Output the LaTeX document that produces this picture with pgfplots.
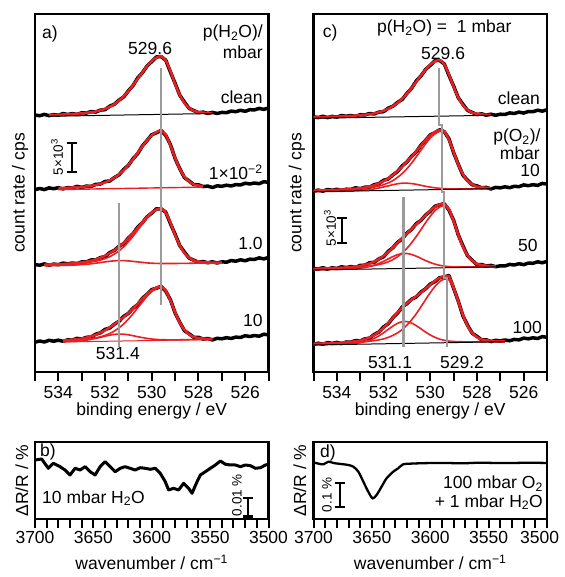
\documentclass[border=0pt]{standalone}
\usepackage{fontspec}
\setmainfont{Liberation Sans}
\usepackage{pgfplots}
\pgfplotsset{compat=1.18}
\usepackage{pgfplotstable}
\definecolor{fitred}{RGB}{235,30,35}
\definecolor{guide}{RGB}{155,155,155}
\newcommand\lbl{\fontsize{17.5}{20}\selectfont}
\newcommand\sml{\fontsize{13.5}{15}\selectfont}

% panel a: d = data, e = fit envelope, m = main component, c = second component
\pgfplotstableread{
E d1 e1 d2 e2 d3 e3 m3 c3 d4 e4 m4 c4
535.0 257.0 nan 182.3 nan 107.5 nan nan nan 29.8 nan nan nan
534.8 256.2 nan 183.5 nan 106.7 nan nan nan 31.0 nan nan nan
534.6 257.6 nan 182.4 nan 108.1 107.3 107.2 106.2 30.0 nan nan nan
534.4 256.3 257.0 184.1 nan 106.8 107.5 107.4 106.3 31.7 nan nan nan
534.2 257.4 257.1 183.3 nan 107.9 107.6 107.5 106.4 30.8 nan nan nan
534.0 256.8 257.3 184.3 183.8 107.3 107.8 107.7 106.5 31.8 nan nan nan
533.8 258.4 257.5 183.1 184.0 108.9 108.0 107.9 106.6 30.7 31.6 31.4 30.2
533.6 257.5 257.7 184.4 184.2 108.1 108.3 108.2 106.7 32.1 31.9 31.6 30.4
533.4 258.4 258.0 184.1 184.5 109.0 108.6 108.4 106.9 31.9 32.3 31.8 30.6
533.2 257.5 258.3 185.6 184.8 108.3 109.1 108.7 107.1 33.6 32.8 32.1 30.9
533.0 259.2 258.7 184.6 185.1 110.1 109.6 109.1 107.4 32.9 33.4 32.5 31.3
532.8 258.9 259.2 185.9 185.6 110.1 110.4 109.5 107.7 34.7 34.4 32.9 31.8
532.6 260.4 259.7 185.5 186.2 112.0 111.3 110.0 108.2 34.9 35.6 33.4 32.6
532.4 259.9 260.5 187.6 187.0 112.0 112.6 110.8 108.8 37.8 37.2 34.2 33.6
532.2 261.9 261.7 187.9 188.1 114.4 114.2 111.9 109.4 39.1 39.3 35.2 34.6
532.0 262.3 263.2 190.5 189.6 115.4 116.3 113.4 110.1 42.6 41.7 36.6 35.8
531.8 265.8 265.2 191.0 191.6 119.4 118.8 115.3 110.7 44.0 44.6 38.5 36.8
531.6 267.8 267.9 194.4 194.3 121.6 121.7 117.9 111.2 47.8 47.7 41.0 37.6
531.4 271.9 271.4 197.2 197.7 125.7 125.2 121.2 111.4 50.7 51.2 44.2 37.9
531.2 275.1 275.8 202.6 201.9 128.4 129.1 125.3 111.4 55.6 54.9 48.1 37.8
531.0 281.2 280.9 206.7 207.0 134.0 133.7 130.2 111.1 58.6 58.9 52.9 37.2
530.8 286.5 286.9 213.3 212.9 138.3 138.7 135.8 110.6 63.8 63.4 58.3 36.3
530.6 294.1 293.3 218.4 219.2 145.0 144.2 141.9 110.1 67.4 68.2 64.2 35.3
530.4 299.3 299.8 226.1 225.6 149.3 149.8 148.1 109.6 73.7 73.2 70.1 34.4
530.2 306.0 305.9 231.5 231.6 155.2 155.1 153.9 109.1 77.8 77.9 75.7 33.6
530.0 310.4 311.0 237.2 236.6 158.9 159.5 158.7 108.8 82.4 81.8 80.4 33.0
529.8 315.1 314.4 239.2 239.9 163.2 162.5 162.0 108.6 83.8 84.5 83.5 32.6
529.6 315.4 315.7 241.5 241.2 163.2 163.5 163.2 108.5 85.6 85.3 84.7 32.3
529.4 311.8 311.4 236.6 237.0 159.8 159.4 159.1 108.5 80.8 81.2 80.8 32.2
529.2 300.0 300.8 227.4 226.6 148.4 149.2 149.1 108.5 72.2 71.4 71.1 32.1
529.0 288.7 288.1 213.5 214.1 137.8 137.2 137.1 108.5 59.1 59.7 59.5 32.1
528.8 276.8 277.0 203.3 203.1 126.4 126.6 126.5 108.6 49.7 49.5 49.3 32.2
528.6 269.9 269.0 194.4 195.3 119.9 119.0 118.9 108.6 41.3 42.2 42.0 32.2
528.4 263.6 264.1 191.0 190.5 113.9 114.4 114.3 108.7 38.2 37.7 37.6 32.3
528.2 261.4 261.1 187.3 187.6 111.8 111.5 111.5 108.8 34.7 35.0 34.9 32.3
528.0 259.3 260.0 187.2 186.5 109.8 110.5 110.5 108.9 34.7 34.0 33.9 32.4
527.8 259.9 259.4 185.4 185.9 110.4 109.9 109.9 108.9 32.9 33.4 33.3 32.5
527.6 258.6 259.0 185.9 nan 109.2 109.6 109.5 109.0 33.5 33.1 33.0 32.5
527.4 259.6 258.8 184.5 nan 110.2 109.4 109.3 109.1 32.1 32.9 32.8 32.6
527.2 258.5 nan 186.2 nan 109.0 109.3 109.2 109.2 33.7 nan nan nan
527.0 259.6 nan 185.7 nan 110.2 109.3 109.3 109.2 33.2 nan nan nan
526.8 259.3 nan 186.8 nan 109.8 nan nan nan 34.3 nan nan nan
526.6 260.9 nan 186.0 nan 111.4 nan nan nan 33.5 nan nan nan
526.4 260.3 nan 187.4 nan 110.8 nan nan nan 34.9 nan nan nan
526.2 261.7 nan 187.0 nan 112.2 nan nan nan 34.5 nan nan nan
526.0 260.7 nan 188.8 nan 111.2 nan nan nan 36.3 nan nan nan
525.8 262.3 nan 188.0 nan 112.8 nan nan nan 35.5 nan nan nan
525.6 262.1 nan 189.0 nan 112.6 nan nan nan 36.5 nan nan nan
525.4 263.6 nan 188.3 nan 114.1 nan nan nan 35.8 nan nan nan
525.2 262.6 nan 190.3 nan 113.1 nan nan nan 37.8 nan nan nan
525.0 264.1 nan 189.6 nan 114.6 nan nan nan 37.1 nan nan nan
}\tabA

% panel c
\pgfplotstableread{
E d1 e1 d2 e2 m2 c2 d3 e3 m3 c3 d4 e4 m4 c4
535.0 255.2 254.6 180.7 181.3 181.2 180.4 103.7 103.1 102.9 102.2 27.6 28.2 28.0 27.2
534.8 254.4 254.8 181.9 181.5 181.4 180.5 102.9 103.3 103.1 102.3 28.8 28.4 28.1 27.3
534.6 255.7 254.9 180.8 181.6 181.5 180.6 104.3 103.5 103.3 102.4 27.7 28.5 28.3 27.5
534.4 254.4 255.1 182.5 181.8 181.7 180.6 102.9 103.6 103.4 102.5 29.4 28.7 28.4 27.6
534.2 255.6 255.3 181.7 182.0 181.9 180.7 104.2 103.9 103.6 102.6 28.6 28.9 28.6 27.7
534.0 254.9 255.4 182.7 182.2 182.1 180.8 103.5 104.0 103.8 102.7 29.6 29.1 28.7 27.8
533.8 256.5 255.6 181.5 182.4 182.2 180.9 105.2 104.3 104.0 102.8 28.5 29.4 29.0 27.9
533.6 255.7 255.9 182.8 182.6 182.4 181.1 104.4 104.6 104.2 103.0 30.0 29.8 29.2 28.2
533.4 256.5 256.1 182.5 182.9 182.7 181.2 105.4 105.0 104.4 103.2 29.8 30.2 29.4 28.4
533.2 255.6 256.4 184.2 183.4 183.0 181.4 104.6 105.4 104.7 103.5 31.5 30.7 29.6 28.8
533.0 257.3 256.8 183.3 183.8 183.3 181.6 106.6 106.1 105.0 103.9 31.1 31.6 30.0 29.4
532.8 257.0 257.3 184.8 184.5 183.8 182.0 106.8 107.1 105.4 104.6 33.1 32.8 30.3 30.3
532.6 258.5 257.8 184.8 185.5 184.3 182.5 109.2 108.5 105.9 105.5 33.8 34.5 30.8 31.7
532.4 258.0 258.6 187.3 186.7 185.0 183.1 109.7 110.3 106.5 106.8 37.5 36.9 31.4 33.6
532.2 259.9 259.7 188.3 188.5 185.9 184.0 113.1 112.9 107.4 108.6 39.9 40.1 32.1 36.1
532.0 260.3 261.2 191.7 190.8 187.3 185.0 115.2 116.1 108.6 110.7 45.0 44.1 33.1 39.2
531.8 263.8 263.2 193.0 193.6 189.1 186.1 120.6 120.0 110.2 113.1 48.3 48.9 34.6 42.6
531.6 265.7 265.8 197.1 197.0 191.4 187.3 124.3 124.4 112.4 115.4 54.2 54.1 36.6 45.9
531.4 269.6 269.1 200.5 201.0 194.6 188.2 129.6 129.1 115.3 117.3 58.9 59.4 39.1 48.7
531.2 272.6 273.3 206.1 205.4 198.5 188.8 133.2 133.9 119.0 118.4 65.0 64.3 42.5 50.3
531.0 278.6 278.3 210.0 210.3 203.3 188.8 138.8 138.5 123.6 118.5 68.3 68.6 46.8 50.4
530.8 283.7 284.1 215.7 215.3 208.9 188.4 142.6 143.0 129.2 117.5 72.8 72.4 52.1 48.9
530.6 291.0 290.2 220.0 220.8 215.2 187.7 148.3 147.5 135.5 115.8 75.0 75.8 58.2 46.3
530.4 296.0 296.5 226.8 226.3 221.7 186.7 151.6 152.1 142.3 113.6 79.9 79.4 65.1 43.2
530.2 302.5 302.4 231.6 231.7 228.2 185.7 156.9 156.8 149.3 111.4 83.2 83.3 72.3 39.9
530.0 306.7 307.3 237.1 236.5 233.9 184.9 160.7 161.3 155.8 109.5 87.9 87.3 79.3 37.0
529.8 311.4 310.7 239.3 240.0 238.3 184.2 165.7 165.0 161.2 107.9 90.4 91.1 85.5 34.7
529.6 311.6 311.9 242.2 241.9 240.7 183.7 167.2 167.5 164.9 106.7 94.3 94.0 90.3 32.9
529.4 308.1 307.7 240.3 240.7 239.9 183.3 168.3 167.9 166.2 105.9 95.0 95.4 92.9 31.7
529.2 296.7 297.5 233.2 232.4 231.9 183.1 162.0 162.8 161.7 105.4 96.5 95.7 92.1 30.9
529.0 285.9 285.3 219.3 219.9 219.6 183.0 151.7 151.1 150.3 105.1 83.8 84.4 83.3 30.5
528.8 274.3 274.5 207.7 207.5 207.3 183.0 137.1 137.3 136.8 105.0 70.9 70.7 69.9 30.3
528.6 267.7 266.8 196.8 197.7 197.5 183.1 126.1 125.2 124.8 105.0 56.1 57.0 56.4 30.2
528.4 261.6 262.1 191.7 191.2 191.0 183.1 116.1 116.6 116.3 105.0 46.6 46.1 45.6 30.1
528.2 259.5 259.2 187.2 187.5 187.4 183.2 111.6 111.3 111.0 105.0 38.7 39.0 38.6 30.1
528.0 257.5 258.2 186.1 185.4 185.3 183.2 107.4 108.1 107.9 105.0 35.6 34.9 34.6 30.2
527.8 258.1 257.6 184.2 184.7 184.6 183.3 107.5 107.0 106.7 105.1 32.1 32.6 32.3 30.2
527.6 256.8 257.2 184.6 184.2 184.1 183.4 105.9 106.3 106.1 105.2 32.2 31.8 31.5 30.3
527.4 257.8 257.0 183.0 183.8 183.8 183.4 106.6 105.8 105.7 105.2 30.4 31.2 30.9 30.3
527.2 256.7 nan 184.6 nan nan nan 105.3 105.6 105.4 105.3 31.7 30.8 30.6 30.4
527.0 257.8 nan 184.1 nan nan nan 106.2 nan nan nan 31.1 30.6 30.4 30.4
526.8 257.5 nan 185.2 nan nan nan 106.0 nan nan nan 32.0 30.5 30.3 30.5
526.6 259.1 nan 184.3 nan nan nan 107.6 nan nan nan 31.2 nan nan nan
526.4 258.5 nan 185.7 nan nan nan 107.0 nan nan nan 32.6 nan nan nan
526.2 259.9 nan 185.3 nan nan nan 108.3 nan nan nan 32.1 nan nan nan
526.0 258.9 nan 187.1 nan nan nan 107.3 nan nan nan 33.9 nan nan nan
525.8 260.5 nan 186.3 nan nan nan 108.9 nan nan nan 33.2 nan nan nan
525.6 260.3 nan 187.3 nan nan nan 108.7 nan nan nan 34.2 nan nan nan
525.4 261.8 nan 186.6 nan nan nan 110.2 nan nan nan 33.5 nan nan nan
525.2 260.8 nan 188.6 nan nan nan 109.2 nan nan nan 35.4 nan nan nan
525.0 262.3 nan 187.9 nan nan nan 110.7 nan nan nan 34.7 nan nan nan
}\tabC

\tikzset{
  txt/.style={font=\lbl, inner sep=0pt},
  stxt/.style={font=\sml, inner sep=0pt, rotate=90},
}
\pgfplotsset{
  panel/.style={
    scale only axis, width=233.5pt,
    x dir=reverse,
    axis line style={line width=2.6pt},
    ytick=\empty,
    tick align=outside, xtick pos=left,
    major tick length=9pt, minor tick length=9pt,
    tick style={black, line width=2pt},
    tick label style={font=\lbl},
    label style={font=\lbl},
    /pgf/number format/assume math mode=true,
    /pgf/number format/1000 sep={},
    unbounded coords=discard,
  },
  xps/.style={panel, height=358pt,
    xmin=525, xmax=535, ymin=0, ymax=358,
    xtick={526,528,...,534}, minor xtick={525,527,...,535},
    xticklabel style={yshift=-2pt},
    xlabel={binding energy / eV}, ylabel={count rate / cps},
    xlabel style={at={(axis description cs:0.5,-0.109)}, anchor=center},
  },
  ir/.style={panel, height=77pt,
    xmin=3500, xmax=3700, ymin=0, ymax=77,
    xtick={3500,3550,...,3700}, minor xtick={3500,3510,...,3700},
    xlabel={wavenumber / cm\textsuperscript{−1}}, ylabel={ΔR/R / \%},
    xlabel style={at={(axis description cs:0.5,-0.56)}, anchor=center},
  },
  dat/.style={black, line width=3.5pt, line join=round, no marks},
  fit/.style={fitred, line width=2.5pt, smooth, no marks},
  comp/.style={fitred, line width=1.6pt, smooth, no marks},
  base/.style={line width=1pt, no marks},
  gline/.style={guide, line width=2.2pt, no marks},
  bar/.style={black, line width=2.5pt, no marks},
}

\begin{document}
\begin{tikzpicture}
\useasboundingbox (0,0) rectangle (564pt,577pt);

% ---------- a) ----------
\begin{axis}[xps, at={(35pt,205pt)}, anchor=south west,
  ylabel style={at={(axis description cs:-0.064,0.5)}, anchor=center}]
\addplot[dat] table[x=E,y=d1]{\tabA};
\addplot[fit] table[x=E,y=e1]{\tabA};
\addplot[base, black] coordinates {(534.4,255.7) (527.4,258.5)};
\addplot[dat] table[x=E,y=d2]{\tabA};
\addplot[fit] table[x=E,y=e2]{\tabA};
\addplot[base, fitred, line width=1.4pt] coordinates {(534.0,182.4) (527.8,184.9)};
\addplot[dat] table[x=E,y=d3]{\tabA};
\addplot[fit] table[x=E,y=e3]{\tabA};
\addplot[comp] table[x=E,y=m3]{\tabA};
\addplot[comp] table[x=E,y=c3]{\tabA};
\addplot[dat] table[x=E,y=d4]{\tabA};
\addplot[fit] table[x=E,y=e4]{\tabA};
\addplot[comp] table[x=E,y=m4]{\tabA};
\addplot[comp] table[x=E,y=c4]{\tabA};
\addplot[base, fitred] coordinates {(533.8,30.0) (527.4,32.5)};
\addplot[gline] coordinates {(529.6,304) (529.6,67)};
\addplot[gline] coordinates {(531.4,169) (531.4,25)};
\addplot[bar] coordinates {(533.42,200) (533.42,229)};
\addplot[bar] coordinates {(533.63,229) (533.21,229)};
\addplot[bar] coordinates {(533.63,200) (533.21,200)};
\node[txt] at (axis cs:534.36,338) {a)};
\node[txt, anchor=east] at (axis cs:525.24,339) {p(H\textsubscript{2}O)/};
\node[txt, anchor=east] at (axis cs:525.24,320) {mbar};
\node[txt] at (axis cs:530.07,324) {529.6};
\node[txt, anchor=east] at (axis cs:525.24,275) {clean};
\node[txt, anchor=east] at (axis cs:525.24,200) {1×10\textsuperscript{−2}};
\node[txt, anchor=east] at (axis cs:525.24,129) {1.0};
\node[txt, anchor=east] at (axis cs:525.24,52) {10};
\node[txt] at (axis cs:531.45,19) {531.4};
\node[stxt] at (axis cs:534.06,215) {5×10\textsuperscript{3}};
\end{axis}

% ---------- c) ----------
\begin{axis}[xps, at={(313.5pt,205pt)}, anchor=south west,
  ylabel style={at={(axis description cs:-0.071,0.5)}, anchor=center}]
\addplot[dat] table[x=E,y=d1]{\tabC};
\addplot[fit] table[x=E,y=e1]{\tabC};
\addplot[base, black] coordinates {(535,253.7) (527.4,256.7)};
\addplot[dat] table[x=E,y=d2]{\tabC};
\addplot[fit] table[x=E,y=e2]{\tabC};
\addplot[comp] table[x=E,y=m2]{\tabC};
\addplot[comp] table[x=E,y=c2]{\tabC};
\addplot[base, black] coordinates {(535,180.3) (527.4,183.3)};
\addplot[dat] table[x=E,y=d3]{\tabC};
\addplot[fit] table[x=E,y=e3]{\tabC};
\addplot[comp] table[x=E,y=m3]{\tabC};
\addplot[comp] table[x=E,y=c3]{\tabC};
\addplot[base, black] coordinates {(535,102.0) (527.2,105.1)};
\addplot[dat] table[x=E,y=d4]{\tabC};
\addplot[fit] table[x=E,y=e4]{\tabC};
\addplot[comp] table[x=E,y=m4]{\tabC};
\addplot[comp] table[x=E,y=c4]{\tabC};
\addplot[base, black] coordinates {(535,27.0) (526.8,30.3)};
\addplot[gline] coordinates {(529.62,304) (529.62,247) (529.5,247) (529.5,180) (529.42,180) (529.42,94) (529.3,94) (529.3,25)};
\addplot[gline] coordinates {(531.15,175) (531.15,25)};
\addplot[bar] coordinates {(533.78,129) (533.78,154)};
\addplot[bar] coordinates {(533.99,154) (533.57,154)};
\addplot[bar] coordinates {(533.99,129) (533.57,129)};
\node[txt] at (axis cs:534.29,339) {c)};
\node[txt] at (axis cs:529.4,344) {p(H\textsubscript{2}O) =\ \ 1 mbar};
\node[txt] at (axis cs:529.45,319) {529.6};
\node[txt, anchor=east] at (axis cs:525.3,274) {clean};
\node[txt, anchor=east] at (axis cs:525.27,235) {p(O\textsubscript{2})/};
\node[txt, anchor=east] at (axis cs:525.3,219) {mbar};
\node[txt, anchor=east] at (axis cs:525.3,202) {10};
\node[txt, anchor=east] at (axis cs:525.39,127) {50};
\node[txt, anchor=east] at (axis cs:525.21,45) {100};
\node[txt] at (axis cs:531.72,10) {531.1};
\node[txt] at (axis cs:528.64,10) {529.2};
\node[stxt] at (axis cs:534.29,144) {5×10\textsuperscript{3}};
\end{axis}

% ---------- b) ----------
\begin{axis}[ir, at={(35pt,58pt)}, anchor=south west,
  ylabel style={at={(axis description cs:-0.056,0.5)}, anchor=center}]
\addplot[black, line width=3pt, line join=round, no marks] coordinates {
(3700,59) (3694.3,60) (3688.6,50.7) (3684.3,55.7) (3678.5,52.3) (3674.3,49)
(3670,44) (3665.7,50.7) (3661.4,49) (3657.1,52.3) (3652.8,47.3) (3648.5,44)
(3644.2,52.3) (3639.9,57.3) (3635.6,52.3) (3631.3,47.3) (3627,50.7) (3622.8,52.3)
(3618.5,50.7) (3614.2,49) (3609.9,51.3) (3605.6,50.7) (3601.3,49.7) (3597,50.7)
(3592.7,45.7) (3588.4,37.3) (3585.6,29) (3581.3,30.7) (3577,29) (3572.7,35.7)
(3568.4,30.7) (3565.5,25.7) (3561.2,37.3) (3558.4,44) (3554.1,47.3) (3549.8,50.7)
(3545.5,54) (3541.2,58) (3536.9,54.7) (3532.6,54) (3528.3,54) (3524,52.3)
(3519.8,54) (3515.5,53.3) (3511.2,50.7) (3506.9,51.3) (3502.6,54) (3500,54.7)};
\addplot[bar] coordinates {(3517.6,2.5) (3517.6,21)};
\addplot[bar] coordinates {(3522,21) (3513.2,21)};
\addplot[bar] coordinates {(3522,2.5) (3513.2,2.5)};
\node[txt] at (axis cs:3688.9,67) {b)};
\node[txt, anchor=west] at (axis cs:3694,21) {10 mbar H\textsubscript{2}O};
\node[stxt] at (axis cs:3527,24) {0.01 \%};
\end{axis}

% ---------- d) ----------
\begin{axis}[ir, at={(313.5pt,58pt)}, anchor=south west,
  xticklabels={\makebox[0pt][r]{3500\hspace{-12pt}},3550,3600,3650,3700},
  ylabel style={at={(axis description cs:-0.058,0.5)}, anchor=center}]
\addplot[black, line width=2.3pt, smooth, no marks] coordinates {
(3700,56.7) (3695.7,55.3) (3691.5,54.7) (3687.2,57.3) (3682.9,56) (3678.7,55.3)
(3674.4,54.7) (3670.1,54) (3665.9,52.3) (3661.6,47.3) (3657.3,37.3) (3653.1,27.3)
(3649.4,20.7) (3646,24) (3641.7,32.3) (3637.4,40.7) (3631.7,47.3) (3627.5,50.7)
(3623.2,54.7) (3617.5,55.3) (3609,55.7) (3597.6,56) (3586.2,56) (3572,55.7)
(3557.8,56.3) (3543.6,56) (3529.4,56) (3515.1,56.3) (3500,56)};
\addplot[bar] coordinates {(3677.3,12) (3677.3,36)};
\addplot[bar] coordinates {(3681.7,36) (3672.9,36)};
\addplot[bar] coordinates {(3681.7,12) (3672.9,12)};
\node[txt] at (axis cs:3687.6,66) {d)};
\node[txt, anchor=east] at (axis cs:3503.4,35.5) {100 mbar O\textsubscript{2}};
\node[txt, anchor=east] at (axis cs:3503.4,17) {+ 1 mbar H\textsubscript{2}O};
\node[stxt] at (axis cs:3688.4,24) {0.1 \%};
\end{axis}
\end{tikzpicture}
\end{document}
